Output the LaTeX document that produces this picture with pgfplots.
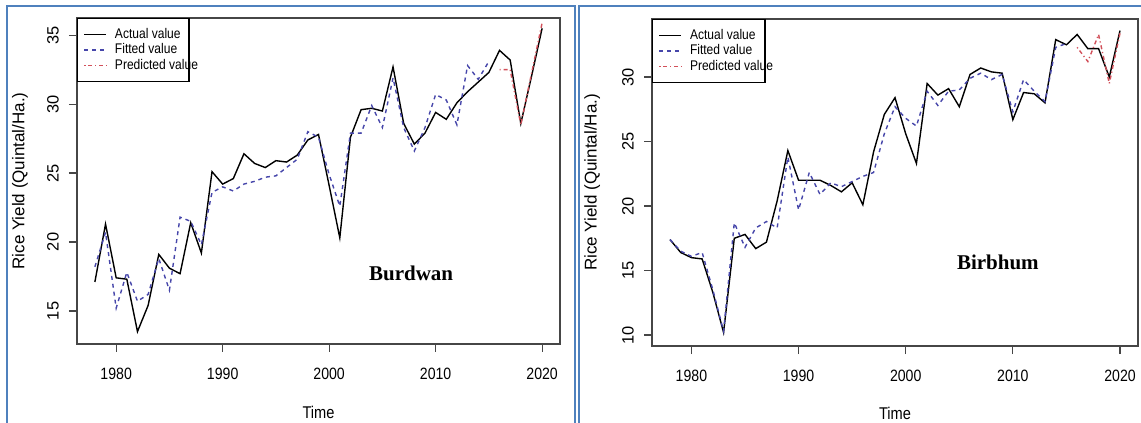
\documentclass[border=0pt]{standalone}
\usepackage{pgfplots}
\usepackage{pgfplotstable}
\pgfplotsset{compat=1.18}
\usepackage{fontspec}
\setmainfont{Liberation Sans}
\newfontfamily\sq{Liberation Sans}[FakeStretch=0.86]
\newfontfamily\tnr{Liberation Serif}
\definecolor{framecol}{RGB}{79,129,189}
\definecolor{fitcol}{RGB}{70,70,170}
\definecolor{predcol}{RGB}{210,80,90}
\definecolor{axcol}{RGB}{70,70,70}

\pgfplotstableread{
year val
1978 17.1
1979 21.3
1980 17.4
1981 17.3
1982 13.5
1983 15.4
1984 19.1
1985 18.1
1986 17.7
1987 21.4
1988 19.2
1989 25.1
1990 24.2
1991 24.6
1992 26.4
1993 25.7
1994 25.4
1995 25.9
1996 25.8
1997 26.3
1998 27.4
1999 27.8
2000 24.1
2001 20.3
2002 27.6
2003 29.6
2004 29.7
2005 29.5
2006 32.7
2007 28.6
2008 27.1
2009 27.9
2010 29.4
2011 28.9
2012 30.1
2013 30.9
2014 31.6
2015 32.3
2016 33.9
2017 33.2
2018 28.6
2019 32.0
2020 35.5
}\burdact

\pgfplotstableread{
year val
1978 18.2
1979 20.7
1980 15.2
1981 17.8
1982 15.7
1983 16.2
1984 18.8
1985 16.5
1986 21.8
1987 21.5
1988 19.8
1989 23.6
1990 24.0
1991 23.7
1992 24.2
1993 24.4
1994 24.7
1995 24.8
1996 25.4
1997 26.0
1998 28.0
1999 27.6
2000 24.9
2001 22.6
2002 27.9
2003 27.9
2004 29.9
2005 28.3
2006 31.9
2007 28.3
2008 26.6
2009 28.3
2010 30.7
2011 30.3
2012 28.5
2013 32.8
2014 31.8
2015 33.1
}\burdfit

\pgfplotstableread{
year val
2016 32.5
2017 32.5
2018 28.5
2019 32.2
2020 35.9
}\burdpred

\pgfplotstableread{
year val
1978 17.4
1979 16.4
1980 16.0
1981 15.9
1982 13.3
1983 10.2
1984 17.5
1985 17.8
1986 16.7
1987 17.2
1988 20.4
1989 24.3
1990 22.0
1991 22.0
1992 22.0
1993 21.6
1994 21.1
1995 21.8
1996 20.1
1997 24.2
1998 27.1
1999 28.4
2000 25.6
2001 23.3
2002 29.5
2003 28.6
2004 29.1
2005 27.7
2006 30.2
2007 30.7
2008 30.4
2009 30.3
2010 26.7
2011 28.8
2012 28.7
2013 28.0
2014 32.9
2015 32.5
2016 33.3
2017 32.2
2018 32.2
2019 30.0
2020 33.6
}\birbact

\pgfplotstableread{
year val
1978 17.4
1979 16.5
1980 16.1
1981 16.4
1982 13.5
1983 10.3
1984 18.7
1985 16.8
1986 18.3
1987 18.8
1988 18.3
1989 23.8
1990 19.7
1991 22.6
1992 20.9
1993 21.8
1994 21.5
1995 21.9
1996 22.3
1997 22.6
1998 25.6
1999 27.7
2000 26.8
2001 26.2
2002 28.9
2003 27.8
2004 28.9
2005 29.0
2006 29.9
2007 30.3
2008 29.8
2009 30.2
2010 27.3
2011 29.8
2012 28.9
2013 28.1
2014 32.3
2015 32.6
}\birbfit

\pgfplotstableread{
year val
2016 32.3
2017 31.2
2018 33.3
2019 29.5
2020 33.4
}\birbpred

\pgfplotsset{
  rstyle/.style={
    scale only axis,
    axis line style={line width=0.6pt, axcol},
    tick align=outside,
    major tick length=4pt,
    tick style={line width=0.6pt, axcol},
    xtick={1980,1990,2000,2010,2020},
    xmin=1976.32, xmax=2021.68,
    xtick pos=bottom, ytick pos=left,
    /pgf/number format/assume math mode=true,
    /pgf/number format/1000 sep={},
    xticklabel style={anchor=center, font=\sq\fontsize{8.2}{10}\selectfont},
    xticklabel shift=11pt,
    yticklabel style={rotate=90, anchor=center, font=\fontsize{8.2}{10}\selectfont},
    yticklabel shift=8pt,
    xlabel style={font=\sq\fontsize{8.5}{10}\selectfont},
    ylabel style={font=\fontsize{8.5}{10}\selectfont},
    xlabel={Time},
    ylabel={Rice Yield (Quintal/Ha.)},
    legend style={at={(0,1)}, anchor=north west, draw=black, line width=0.6pt,
      fill=white, font=\sq\fontsize{7}{8}\selectfont,
      inner xsep=3pt, inner ysep=3.8pt,
      nodes={inner sep=1pt},
      row sep=-0.9pt,
      /tikz/every odd column/.style={column sep=3pt}},
    legend cell align=left,
    legend image code/.code={\draw[#1] (0pt,0pt) -- (11pt,0pt);},
    actual/.style={black, line width=0.7pt},
    fitted/.style={fitcol, line width=0.7pt, dash pattern=on 2pt off 2pt},
    predicted/.style={predcol, line width=0.7pt, dash pattern=on 0.6pt off 1.4pt on 2pt off 1.4pt},
  }
}

\begin{document}
\begin{tikzpicture}
\useasboundingbox (0,0) rectangle (570.5pt,211.5pt);
\clip (0,0) rectangle (570.5pt,211.5pt);
\draw[framecol, line width=1pt] (3.5pt,-5pt) -- (3.5pt,208.5pt) -- (287.3pt,208.5pt) -- (287.3pt,-5pt);
\draw[framecol, line width=1pt] (289.5pt,-5pt) -- (289.5pt,208.5pt) -- (580pt,208.5pt);

\begin{axis}[rstyle, at={(38.5pt,39.5pt)}, anchor=south west,
  width=241.5pt, height=163pt,
  ymin=12.6, ymax=36.25, ytick={15,20,25,30,35},
  xlabel style={at={(axis description cs:0.5,-0.2086)}, anchor=center},
  ylabel style={at={(axis description cs:-0.118,0.5)}, anchor=center},
]
\addplot[actual] table[x=year,y=val] {\burdact};
\addlegendentry{\makebox[33pt][l]{Actual value}}
\addplot[fitted] table[x=year,y=val] {\burdfit};
\addlegendentry{\makebox[33pt][l]{Fitted value}}
\addplot[predicted] table[x=year,y=val] {\burdpred};
\addlegendentry{\makebox[33pt][l]{Predicted value}}
\node[font=\tnr\bfseries\fontsize{10.5}{12}\selectfont] at (axis cs:2007.7,17.75) {Burdwan};
\end{axis}

\begin{axis}[rstyle, at={(326pt,38.5pt)}, anchor=south west,
  width=243pt, height=163.5pt,
  ymin=9.15, ymax=34.5, ytick={10,15,20,25,30},
  xlabel style={at={(axis description cs:0.5,-0.205)}, anchor=center},
  ylabel style={at={(axis description cs:-0.123,0.5)}, anchor=center},
]
\addplot[actual] table[x=year,y=val] {\birbact};
\addlegendentry{\makebox[33.5pt][l]{Actual value}}
\addplot[fitted] table[x=year,y=val] {\birbfit};
\addlegendentry{\makebox[33.5pt][l]{Fitted value}}
\addplot[predicted] table[x=year,y=val] {\birbpred};
\addlegendentry{\makebox[33.5pt][l]{Predicted value}}
\node[font=\tnr\bfseries\fontsize{10.5}{12}\selectfont] at (axis cs:2008.6,15.66) {Birbhum};
\end{axis}
\end{tikzpicture}
\end{document}
